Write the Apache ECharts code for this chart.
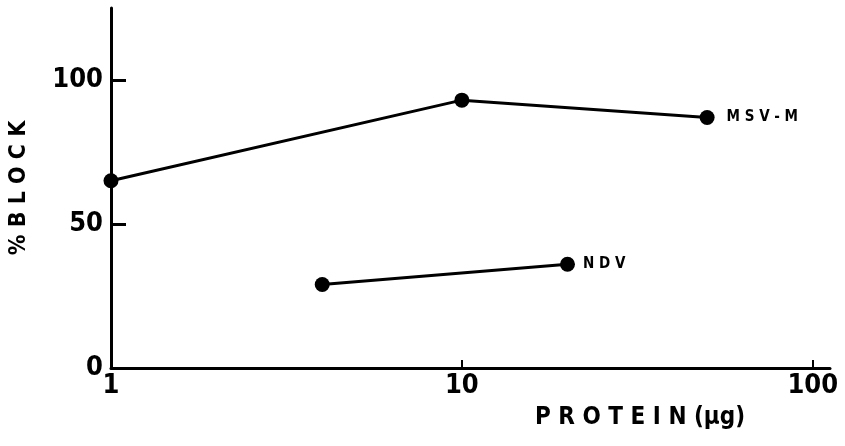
<!DOCTYPE html>
<html><head><meta charset="utf-8">
<script src="https://cdn.jsdelivr.net/npm/echarts@6/dist/echarts.min.js"></script>
<style>html,body{margin:0;padding:0;background:#fff}#c{width:845px;height:446px}</style>
</head><body><div id="c"></div>
<script>
const msvProtein = [1, 10, 50];
const msvBlock = [65, 93, 87];
const ndvProtein = [4, 20];
const ndvBlock = [29, 36];
const xTicks = [1, 10, 100];
const yTicks = [0, 50, 100];
const seriesNames = ['M S V - M', 'N D V'];

const FONT = "'Liberation Sans Narrow', 'DejaVu Sans Condensed', 'Liberation Sans', sans-serif";
function build(xs, ys, name, dist) {
  return xs.map((x, i) => {
    const item = { value: [x, ys[i]] };
    if (i === xs.length - 1) {
      item.label = { show: true, position: 'right', distance: dist, formatter: name,
        fontFamily: FONT, fontWeight: 'bold', fontSize: 15, color: '#000' };
    }
    return item;
  });
}
const chart = echarts.init(document.getElementById('c'));
chart.setOption({
  animation: false,
  backgroundColor: '#fff',
  grid: { left: 111, right: 15, top: 8, bottom: 78, containLabel: false, outerBoundsMode: 'none' },
  xAxis: {
    type: 'log', logBase: 10, min: 1, max: 112,
    axisLine: { onZero: false, lineStyle: { color: '#000', width: 3 } },
    axisTick: { inside: true, length: 8, lineStyle: { color: '#000', width: 2 },
      interval: (idx, val) => xTicks.indexOf(Math.round(Number(val))) > 0 },
    axisLabel: { color: '#000', fontFamily: FONT, fontWeight: 'bold', fontSize: 27, margin: 4,
      showMaxLabel: false,
      formatter: (v) => xTicks.indexOf(Math.round(v)) >= 0 ? String(Math.round(v)) : '' },
    splitLine: { show: false }
  },
  yAxis: {
    type: 'value', min: 0, max: 125,
    axisLine: { show: true, lineStyle: { color: '#000', width: 3 } },
    axisTick: { show: true, inside: true, length: 15, lineStyle: { color: '#000', width: 3 }, customValues: yTicks.slice(1) },
    axisLabel: { customValues: yTicks, color: '#000', fontFamily: FONT, fontWeight: 'bold', fontSize: 27, margin: 8 },
    splitLine: { show: false },
    name: '% B L O C K', nameLocation: 'middle', nameRotate: 90, nameGap: 80,
    nameTextStyle: { color: '#000', fontFamily: FONT, fontWeight: 'bold', fontSize: 23 }
  },
  graphic: [{
    type: 'text', left: 535, top: 406,
    style: { text: 'P R O T E I N (µg)', fill: '#000', font: "bold 24px " + FONT }
  }],
  series: [
    { type: 'line', name: seriesNames[0], data: build(msvProtein, msvBlock, seriesNames[0], 12),
      symbol: 'circle', symbolSize: 15, lineStyle: { color: '#000', width: 3 }, itemStyle: { color: '#000' } },
    { type: 'line', name: seriesNames[1], data: build(ndvProtein, ndvBlock, seriesNames[1], 8),
      symbol: 'circle', symbolSize: 15, lineStyle: { color: '#000', width: 3 }, itemStyle: { color: '#000' } }
  ]
});
</script></body></html>
